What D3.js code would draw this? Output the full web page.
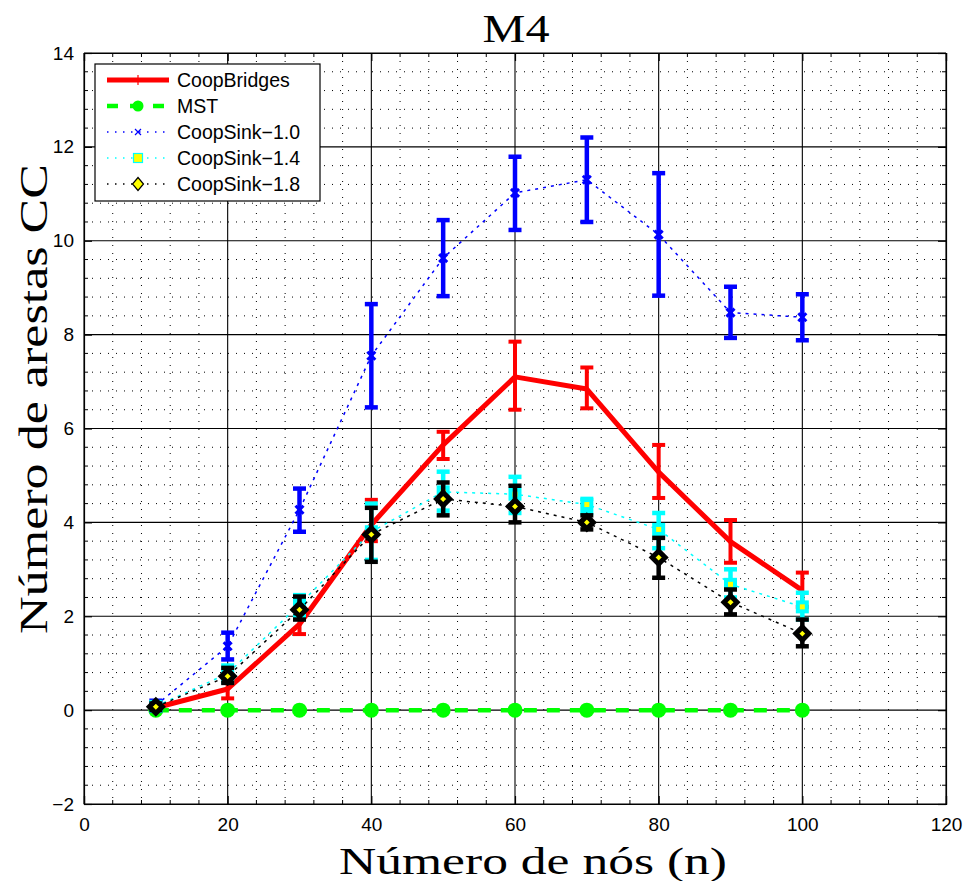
<!DOCTYPE html>
<html>
<head>
<meta charset="utf-8">
<script src="https://cdn.jsdelivr.net/npm/d3@7"></script>
<style>
  html, body { margin: 0; padding: 0; background: #fff; }
  svg { display: block; }
</style>
</head>
<body>
<svg id="chart" width="965" height="881"></svg>
<script>
// ---------- data ----------
const nodes = [10, 20, 30, 40, 50, 60, 70, 80, 90, 100];
const xTicks = [0, 20, 40, 60, 80, 100, 120];
const yTicks = [-2, 0, 2, 4, 6, 8, 10, 12, 14];

const bridgesMean = [0.05, 0.45, 1.83, 3.95, 5.65, 7.10, 6.84, 5.07, 3.59, 2.55];
const bridgesLow  = [0.00, 0.25, 1.62, 3.60, 5.35, 6.40, 6.43, 4.52, 3.14, 2.20];
const bridgesHigh = [0.10, 0.60, 1.95, 4.48, 5.93, 7.85, 7.30, 5.65, 4.05, 2.93];

const mstMean = [0, 0, 0, 0, 0, 0, 0, 0, 0, 0];

const sink10Mean = [0.10, 1.36, 4.27, 7.55, 9.63, 11.02, 11.30, 10.13, 8.47, 8.37];
const sink10Low  = [0.00, 1.08, 3.80, 6.45, 8.82, 10.23, 10.40, 8.83, 7.93, 7.88];
const sink10High = [0.20, 1.65, 4.72, 8.65, 10.44, 11.79, 12.20, 11.44, 9.02, 8.86];

const sink14Mean = [0.08, 0.78, 2.25, 3.80, 4.65, 4.60, 4.38, 3.85, 2.68, 2.20];
const sink14Low  = [0.00, 0.60, 2.00, 3.20, 4.25, 4.20, 4.20, 3.45, 2.40, 1.93];
const sink14High = [0.16, 0.95, 2.45, 4.40, 5.08, 4.97, 4.50, 4.20, 3.00, 2.50];

const sink18Mean = [0.07, 0.72, 2.14, 3.74, 4.50, 4.34, 4.00, 3.25, 2.30, 1.63];
const sink18Low  = [0.00, 0.58, 1.93, 3.16, 4.15, 4.00, 3.85, 2.82, 2.04, 1.36];
const sink18High = [0.14, 0.90, 2.42, 4.31, 4.85, 4.78, 4.15, 3.67, 2.57, 1.93];

const seriesNames = ["CoopBridges", "MST", "CoopSink\u22121.0", "CoopSink\u22121.4", "CoopSink\u22121.8"];

// ---------- layout ----------
const svg = d3.select("#chart");
const L = 84, R = 946, T = 53, B = 804;
const x = d3.scaleLinear().domain([0, 120]).range([L, R]);
const y = d3.scaleLinear().domain([-2, 14]).range([B, T]);

const sansFont = "'Liberation Sans', Arial, Helvetica, sans-serif";
const serifFont = "'Liberation Serif', 'Times New Roman', serif";

// minor grid (dotted)
const xMinor = d3.range(0, 121, 4).filter(v => v % 20 !== 0);
const yMinor = d3.range(-2, 14.01, 0.4).map(v => +v.toFixed(1)).filter(v => Math.abs(v % 2) > 1e-6);
const grid = svg.append("g");
grid.selectAll(".vmin").data(xMinor).enter().append("line")
  .attr("x1", d => x(d)).attr("x2", d => x(d)).attr("y1", T).attr("y2", B)
  .attr("stroke", "#000").attr("stroke-width", 1).attr("stroke-dasharray", "1,7");
grid.selectAll(".hmin").data(yMinor).enter().append("line")
  .attr("y1", d => y(d)).attr("y2", d => y(d)).attr("x1", L).attr("x2", R)
  .attr("stroke", "#000").attr("stroke-width", 1).attr("stroke-dasharray", "1,7");
// major grid (solid)
grid.selectAll(".vmaj").data(xTicks).enter().append("line")
  .attr("x1", d => x(d)).attr("x2", d => x(d)).attr("y1", T).attr("y2", B)
  .attr("stroke", "#000").attr("stroke-width", 1.1);
grid.selectAll(".hmaj").data(yTicks).enter().append("line")
  .attr("y1", d => y(d)).attr("y2", d => y(d)).attr("x1", L).attr("x2", R)
  .attr("stroke", "#000").attr("stroke-width", 1.1);

// axes (ticks inward on all 4 sides)
function styleAxis(g) {
  g.select(".domain").attr("stroke", "#000").attr("stroke-width", 1.2);
  g.selectAll(".tick line").attr("stroke", "#000").attr("stroke-width", 1.2);
  g.selectAll("text").attr("font-family", sansFont).attr("font-size", 19).attr("fill", "#000");
}
const fmt = d => (d < 0 ? "\u2212" + Math.abs(d) : "" + d);
svg.append("g").attr("transform", `translate(0,${B})`)
  .call(d3.axisBottom(x).tickValues(xTicks).tickSize(-8).tickPadding(14).tickFormat(fmt))
  .call(styleAxis);
svg.append("g").attr("transform", `translate(0,${T})`)
  .call(d3.axisTop(x).tickValues(xTicks).tickSize(-8).tickFormat(""))
  .call(styleAxis);
svg.append("g").attr("transform", `translate(${L},0)`)
  .call(d3.axisLeft(y).tickValues(yTicks).tickSize(-8).tickPadding(10).tickFormat(fmt))
  .call(styleAxis);
svg.append("g").attr("transform", `translate(${R},0)`)
  .call(d3.axisRight(y).tickValues(yTicks).tickSize(-8).tickFormat(""))
  .call(styleAxis);
// minor ticks
const mt = svg.append("g").attr("stroke", "#000").attr("stroke-width", 1);
xMinor.forEach(v => {
  mt.append("line").attr("x1", x(v)).attr("x2", x(v)).attr("y1", B).attr("y2", B - 4);
  mt.append("line").attr("x1", x(v)).attr("x2", x(v)).attr("y1", T).attr("y2", T + 4);
});
yMinor.forEach(v => {
  mt.append("line").attr("y1", y(v)).attr("y2", y(v)).attr("x1", L).attr("x2", L + 4);
  mt.append("line").attr("y1", y(v)).attr("y2", y(v)).attr("x1", R).attr("x2", R - 4);
});

// ---------- series ----------
const plot = svg.append("g");
const line = d3.line().x((d, i) => x(nodes[i])).y(d => y(d));

function errorBars(low, high, color, width, cap) {
  const g = plot.append("g").attr("stroke", color).attr("stroke-width", width).attr("fill", "none");
  nodes.forEach((n, i) => {
    g.append("line").attr("x1", x(n)).attr("x2", x(n)).attr("y1", y(low[i])).attr("y2", y(high[i]));
    g.append("line").attr("x1", x(n) - cap).attr("x2", x(n) + cap).attr("y1", y(low[i])).attr("y2", y(low[i]));
    g.append("line").attr("x1", x(n) - cap).attr("x2", x(n) + cap).attr("y1", y(high[i])).attr("y2", y(high[i]));
  });
}

// CoopBridges
errorBars(bridgesLow, bridgesHigh, "#ff0000", 4, 6.5);
plot.append("path").datum(bridgesMean).attr("d", line)
  .attr("fill", "none").attr("stroke", "#ff0000").attr("stroke-width", 5).attr("stroke-linejoin", "round");

// MST
plot.append("path").datum(mstMean).attr("d", line)
  .attr("fill", "none").attr("stroke", "#00ff00").attr("stroke-width", 4.5).attr("stroke-dasharray", "13,10");
plot.selectAll(".mst").data(mstMean).enter().append("circle")
  .attr("cx", (d, i) => x(nodes[i])).attr("cy", d => y(d)).attr("r", 7.5).attr("fill", "#00ff00");

// CoopSink-1.0
plot.append("path").datum(sink10Mean).attr("d", line)
  .attr("fill", "none").attr("stroke", "#0000ff").attr("stroke-width", 1.5).attr("stroke-dasharray", "3,5");
errorBars(sink10Low, sink10High, "#0000ff", 4.5, 6.5);
plot.selectAll(".s10").data(sink10Mean).enter().append("path")
  .attr("transform", (d, i) => `translate(${x(nodes[i])},${y(d)})`)
  .attr("d", "M-4,-4L4,4M-4,4L4,-4").attr("stroke", "#0000ff").attr("stroke-width", 3);

// CoopSink-1.4
plot.append("path").datum(sink14Mean).attr("d", line)
  .attr("fill", "none").attr("stroke", "#00ffff").attr("stroke-width", 1.5).attr("stroke-dasharray", "3,5");
errorBars(sink14Low, sink14High, "#00ffff", 4.5, 6.5);
plot.selectAll(".s14").data(sink14Mean).enter().append("rect")
  .attr("x", (d, i) => x(nodes[i]) - 4.5).attr("y", d => y(d) - 4.5)
  .attr("width", 9).attr("height", 9).attr("fill", "#ffff00").attr("stroke", "#00ffff").attr("stroke-width", 4);

// CoopSink-1.8
plot.append("path").datum(sink18Mean).attr("d", line)
  .attr("fill", "none").attr("stroke", "#000").attr("stroke-width", 1.5).attr("stroke-dasharray", "3,5");
errorBars(sink18Low, sink18High, "#000", 4.5, 6.5);
plot.selectAll(".s18").data(sink18Mean).enter().append("path")
  .attr("transform", (d, i) => `translate(${x(nodes[i])},${y(d)})`)
  .attr("d", "M0,-6.5L6.5,0L0,6.5L-6.5,0Z").attr("fill", "#ffff00").attr("stroke", "#000").attr("stroke-width", 5);

// ---------- legend ----------
const lg = svg.append("g");
lg.append("rect").attr("x", 95).attr("y", 64).attr("width", 225).attr("height", 137)
  .attr("fill", "#fff").attr("stroke", "#000").attr("stroke-width", 1.2);
const rowY = [80, 106, 132, 158, 184];
const x0 = 107, x1 = 169, xm = 138;
// CoopBridges
lg.append("line").attr("x1", x0).attr("x2", x1).attr("y1", rowY[0]).attr("y2", rowY[0]).attr("stroke", "#ff0000").attr("stroke-width", 5);
lg.append("line").attr("x1", xm).attr("x2", xm).attr("y1", rowY[0] - 5).attr("y2", rowY[0] + 5).attr("stroke", "#ff0000").attr("stroke-width", 1.2);
// MST
lg.append("line").attr("x1", x0).attr("x2", x1).attr("y1", rowY[1]).attr("y2", rowY[1]).attr("stroke", "#00ff00").attr("stroke-width", 4.5).attr("stroke-dasharray", "11,12");
lg.append("circle").attr("cx", xm).attr("cy", rowY[1]).attr("r", 5.5).attr("fill", "#00ff00");
// CoopSink-1.0
lg.append("line").attr("x1", x0).attr("x2", x1).attr("y1", rowY[2]).attr("y2", rowY[2]).attr("stroke", "#0000ff").attr("stroke-width", 1.5).attr("stroke-dasharray", "1.5,6.5");
lg.append("path").attr("transform", `translate(${xm},${rowY[2]})`).attr("d", "M-3,-3L3,3M-3,3L3,-3").attr("stroke", "#0000ff").attr("stroke-width", 1.2);
// CoopSink-1.4
lg.append("line").attr("x1", x0).attr("x2", x1).attr("y1", rowY[3]).attr("y2", rowY[3]).attr("stroke", "#00ffff").attr("stroke-width", 1.5).attr("stroke-dasharray", "1.5,6.5");
lg.append("rect").attr("x", xm - 4.5).attr("y", rowY[3] - 4.5).attr("width", 9).attr("height", 9).attr("fill", "#ffff00").attr("stroke", "#00ffff").attr("stroke-width", 1.2);
// CoopSink-1.8
lg.append("line").attr("x1", x0).attr("x2", x1).attr("y1", rowY[4]).attr("y2", rowY[4]).attr("stroke", "#000").attr("stroke-width", 1.5).attr("stroke-dasharray", "1.5,6.5");
lg.append("path").attr("transform", `translate(${xm},${rowY[4]})`).attr("d", "M0,-6.5L5.5,0L0,6.5L-5.5,0Z").attr("fill", "#ffff00").attr("stroke", "#000").attr("stroke-width", 1.2);
lg.selectAll(".lt").data(seriesNames).enter().append("text")
  .attr("x", 177).attr("y", (d, i) => rowY[i] + 7)
  .attr("font-family", sansFont).attr("font-size", 19.5).attr("fill", "#000").text(d => d);

// ---------- titles ----------
svg.append("text").attr("x", 516).attr("y", 42).attr("text-anchor", "middle")
  .attr("font-family", serifFont).attr("font-size", 40).attr("textLength", 67).attr("lengthAdjust", "spacingAndGlyphs")
  .text("M4");
svg.append("text").attr("x", 533).attr("y", 874).attr("text-anchor", "middle")
  .attr("font-family", serifFont).attr("font-size", 38).attr("textLength", 388).attr("lengthAdjust", "spacingAndGlyphs")
  .text("Número de nós (n)");
svg.append("text").attr("transform", "translate(47,399) rotate(-90)").attr("text-anchor", "middle")
  .attr("font-family", serifFont).attr("font-size", 40).attr("textLength", 470).attr("lengthAdjust", "spacingAndGlyphs")
  .text("Número de arestas CC");
</script>
</body>
</html>
